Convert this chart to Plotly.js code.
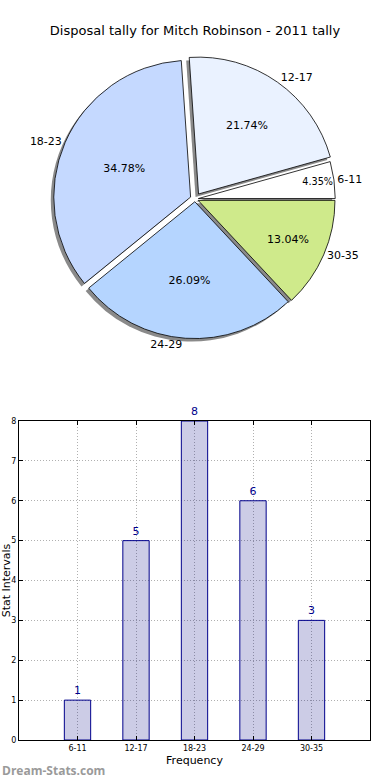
<!DOCTYPE html>
<html>
<head>
<meta charset="utf-8">
<script src="https://cdn.plot.ly/plotly-3.0.1.min.js"></script>
<style>html,body{margin:0;padding:0;background:#fff;}#chart{width:390px;height:780px;}</style>
</head>
<body>
<div id="chart"></div>
<script>
// ---- data ----
const categories = ["6-11", "12-17", "18-23", "24-29", "30-35"];
const counts = [1, 5, 8, 6, 3];
const pieColors = ["#ffffff", "#eaf2ff", "#c5d9ff", "#b5d5ff", "#cfea8b"];
const pulls = [0.025, 0.045, 0.035, 0.02, 0.025];
const yTicks = [0, 1, 2, 3, 4, 5, 6, 7, 8];

const W = 390, H = 780;
const font = "DejaVu Sans, sans-serif";

// first slice should begin at 3 o'clock and run counterclockwise
const total = counts.reduce((a, b) => a + b, 0);
const startRotation = 90 - 360 * counts[0] / total;

// pie geometry (pixel -> paper)
const pcx = 195, pcy = 199, pside = 286;
function dom(dx, dy) {
  return {
    x: [(pcx - pside / 2 + dx) / W, (pcx + pside / 2 + dx) / W],
    y: [(H - pcy - pside / 2 - dy) / H, (H - pcy + pside / 2 - dy) / H]
  };
}

const common = {
  type: "pie", labels: categories, values: counts, sort: false,
  direction: "counterclockwise", rotation: startRotation, pull: pulls,
  hoverinfo: "skip", showlegend: false
};

const shadow = Object.assign({}, common, {
  domain: dom(-3, 3),
  marker: { colors: categories.map(() => "#8a8a8a"), line: { width: 0 } },
  textinfo: "none"
});

const pie = Object.assign({}, common, {
  domain: dom(0, 0),
  marker: { colors: pieColors, line: { color: "#000", width: 0.8 } },
  texttemplate: "%{percent:.2%}",
  textposition: "inside",
  insidetextorientation: "horizontal",
  textfont: { family: font, size: 11, color: "#000" }
});

const pieLabels = Object.assign({}, common, {
  domain: dom(0, 0),
  marker: { colors: categories.map(() => "rgba(0,0,0,0)"), line: { width: 0 } },
  texttemplate: "%{label}",
  textposition: "outside",
  textfont: { family: font, size: 11, color: "#000" }
});

const bars = {
  type: "bar", x: categories, y: counts, width: 0.45,
  xaxis: "x", yaxis: "y",
  marker: { color: "rgba(0,0,128,0.2)", line: { color: "#00008b", width: 1 } },
  text: counts.map(String), textposition: "outside", cliponaxis: false,
  textfont: { family: font, size: 11, color: "#00008b" },
  hoverinfo: "skip", showlegend: false
};

const layout = {
  width: W, height: H,
  margin: { l: 0, r: 0, t: 0, b: 0 },
  paper_bgcolor: "#fff", plot_bgcolor: "#fff",
  font: { family: font, color: "#000" },
  title: { text: "Disposal tally for Mitch Robinson - 2011 tally", x: 0.5, xanchor: "center",
           y: 1 - 30 / H, yanchor: "middle", yref: "container",
           font: { family: font, size: 13, color: "#000" } },
  xaxis: {
    domain: [19 / W, 370 / W], anchor: "y",
    type: "category", range: [-1, 5],
    showline: true, linecolor: "#000", linewidth: 1, mirror: "allticks",
    ticks: "inside", ticklen: 4, tickcolor: "#000",
    showgrid: true, gridcolor: "#b0b0b0", griddash: "1px,2px", gridwidth: 1,
    tickfont: { family: font, size: 8, color: "#000" },
    title: { text: "Frequency", font: { family: font, size: 11, color: "#000" }, standoff: 4 },
    fixedrange: true
  },
  yaxis: {
    domain: [(H - 740) / H, (H - 421) / H], anchor: "x",
    range: [0, 8], tickvals: yTicks, zeroline: false,
    showline: true, linecolor: "#000", linewidth: 1, mirror: "allticks",
    ticks: "inside", ticklen: 4, tickcolor: "#000",
    showgrid: true, gridcolor: "#b0b0b0", griddash: "1px,2px", gridwidth: 1,
    tickfont: { family: font, size: 8, color: "#000" },
    title: { text: "Stat Intervals", font: { family: font, size: 11, color: "#000" }, standoff: 9 },
    fixedrange: true
  },
  annotations: [{
    text: "<b>Dream-Stats.com</b>", xref: "paper", yref: "paper",
    x: 0, y: 10 / H, xanchor: "left", yanchor: "middle", showarrow: false,
    font: { family: "Open Sans, sans-serif", size: 12, color: "#9a9a9a" }
  }]
};

Plotly.newPlot("chart", [shadow, pie, pieLabels, bars], layout, { staticPlot: true, displayModeBar: false });
</script>
</body>
</html>
